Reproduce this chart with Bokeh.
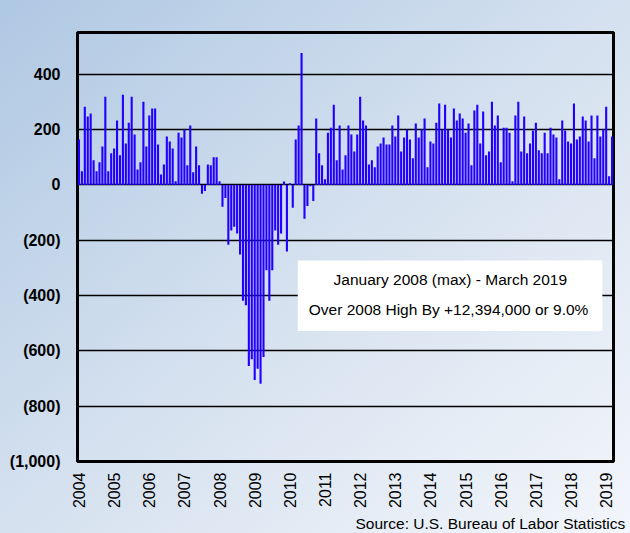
import math
from bokeh.plotting import figure
from bokeh.models import (Range1d, FixedTicker, Title, Label, BoxAnnotation,
                          GlobalInlineStyleSheet, ColumnDataSource)
from bokeh.embed import file_html
from bokeh.resources import INLINE

# Monthly change in nonfarm payrolls (thousands), Jan 2004 - Mar 2019
years = [str(y) for y in range(2004, 2020)]
v2004 = [164, 49, 283, 247, 258, 89, 49, 82, 139, 319, 49, 114]
v2005 = [132, 233, 107, 326, 150, 225, 319, 182, 56, 82, 301, 139]
v2006 = [251, 276, 276, 146, 38, 74, 175, 157, 132, 13, 189, 171]
v2007 = [200, 71, 215, 46, 139, 71, -32, -22, 74, 71, 100, 100]
v2008 = [13, -79, -47, -216, -165, -151, -176, -252, -419, -435, -655, -630]
v2009 = [-705, -665, -719, -622, -309, -419, -309, -165, -216, -176, 12, -241]
v2010 = [6, -83, 164, 215, 477, -122, -76, -5, -58, 240, 114, 71]
v2011 = [20, 189, 207, 290, 89, 215, 56, 107, 215, 182, 121, 182]
v2012 = [319, 233, 215, 74, 89, 64, 139, 150, 171, 146, 146, 215]
v2013 = [175, 251, 121, 171, 200, 164, 96, 222, 171, 200, 240, 64]
v2014 = [157, 150, 225, 294, 200, 290, 200, 171, 276, 233, 258, 240]
v2015 = [189, 222, 71, 269, 290, 150, 265, 107, 121, 301, 215, 251]
v2016 = [82, 207, 207, 189, 13, 251, 301, 121, 247, 114, 150, 197]
v2017 = [225, 125, 114, 189, 114, 207, 182, 171, 20, 233, 197, 157]
v2018 = [150, 294, 164, 175, 247, 233, 157, 251, 96, 251, 175, 200]
v2019 = [283, 31, 175]

y_ticks = [-1000, -800, -600, -400, -200, 0, 200, 400]
y_labels = ["(1,000)", "(800)", "(600)", "(400)", "(200)", "0", "200", "400"]

note_line1 = "January 2008 (max) - March 2019"
note_line2 = "Over 2008 High By +12,394,000 or 9.0%"
source_text = "Source:  U.S. Bureau of Labor Statistics"

values = (v2004 + v2005 + v2006 + v2007 + v2008 + v2009 + v2010 + v2011 +
          v2012 + v2013 + v2014 + v2015 + v2016 + v2017 + v2018 + v2019)
months = list(range(len(values)))
src = ColumnDataSource(data=dict(month=months, change=values))

FONT = "Liberation Sans"

p = figure(width=630, height=533, output_backend="svg", toolbar_location=None,
           x_range=Range1d(-0.5, len(values) - 0.5),
           y_range=Range1d(-1000, 551),
           min_border_left=77, min_border_right=17, min_border_top=32,
           min_border_bottom=70)
p.background_fill_color = None
p.border_fill_color = None
p.outline_line_color = "black"
p.outline_line_width = 3

p.stylesheets = [GlobalInlineStyleSheet(css=(
    "html { min-height: 100%; background: linear-gradient(to bottom right, "
    "#afc8e3 0%, #d5e1ef 50%, #f3f6fb 100%); }"
    "body { background: transparent; }"))]

p.vbar(x="month", top="change", bottom=0, width=0.72, source=src,
       fill_color="#2200ff", line_color=None)

# x axis: years at January positions
x_ticks = [12 * i for i in range(len(years))]
p.xaxis.ticker = FixedTicker(ticks=x_ticks)
p.xaxis.major_label_overrides = {t: y for t, y in zip(x_ticks, years)}
p.xaxis.major_label_orientation = math.pi / 2
p.xaxis.major_label_text_font = FONT
p.xaxis.major_label_text_font_size = "16px"
p.xaxis.major_label_text_color = "black"
p.xaxis.major_label_standoff = 5
p.xaxis.axis_line_color = None
p.xaxis.major_tick_line_color = None
p.xaxis.minor_tick_line_color = None

p.yaxis.ticker = FixedTicker(ticks=y_ticks)
p.yaxis.major_label_overrides = {t: l for t, l in zip(y_ticks, y_labels)}
p.yaxis.major_label_text_font = FONT
p.yaxis.major_label_text_font_size = "16px"
p.yaxis.major_label_text_font_style = "bold"
p.yaxis.major_label_text_color = "black"
p.yaxis.major_label_standoff = 11
p.yaxis.axis_line_color = None
p.yaxis.major_tick_line_color = None
p.yaxis.minor_tick_line_color = None

p.xgrid.visible = False
p.ygrid.ticker = FixedTicker(ticks=y_ticks)
p.ygrid.grid_line_color = "black"
p.ygrid.grid_line_width = 1.6

# annotation box
p.add_layout(BoxAnnotation(left=74.7, right=178.7, top=-273, bottom=-528,
                           fill_color="white", fill_alpha=1.0, line_color=None))
p.add_layout(Label(x=126.8, y=-343, text=note_line1, text_align="center",
                   text_baseline="middle", text_font=FONT,
                   text_font_size="15.5px", text_color="black"))
p.add_layout(Label(x=126.2, y=-451, text=note_line2, text_align="center",
                   text_baseline="middle", text_font=FONT,
                   text_font_size="15.5px", text_color="black"))

p.add_layout(Title(text=source_text, align="right", text_font=FONT,
                   text_font_size="15.5px", text_font_style="normal",
                   text_color="black", standoff=3, offset=-16), "below")

open("out.html", "w").write(file_html(p, INLINE))
